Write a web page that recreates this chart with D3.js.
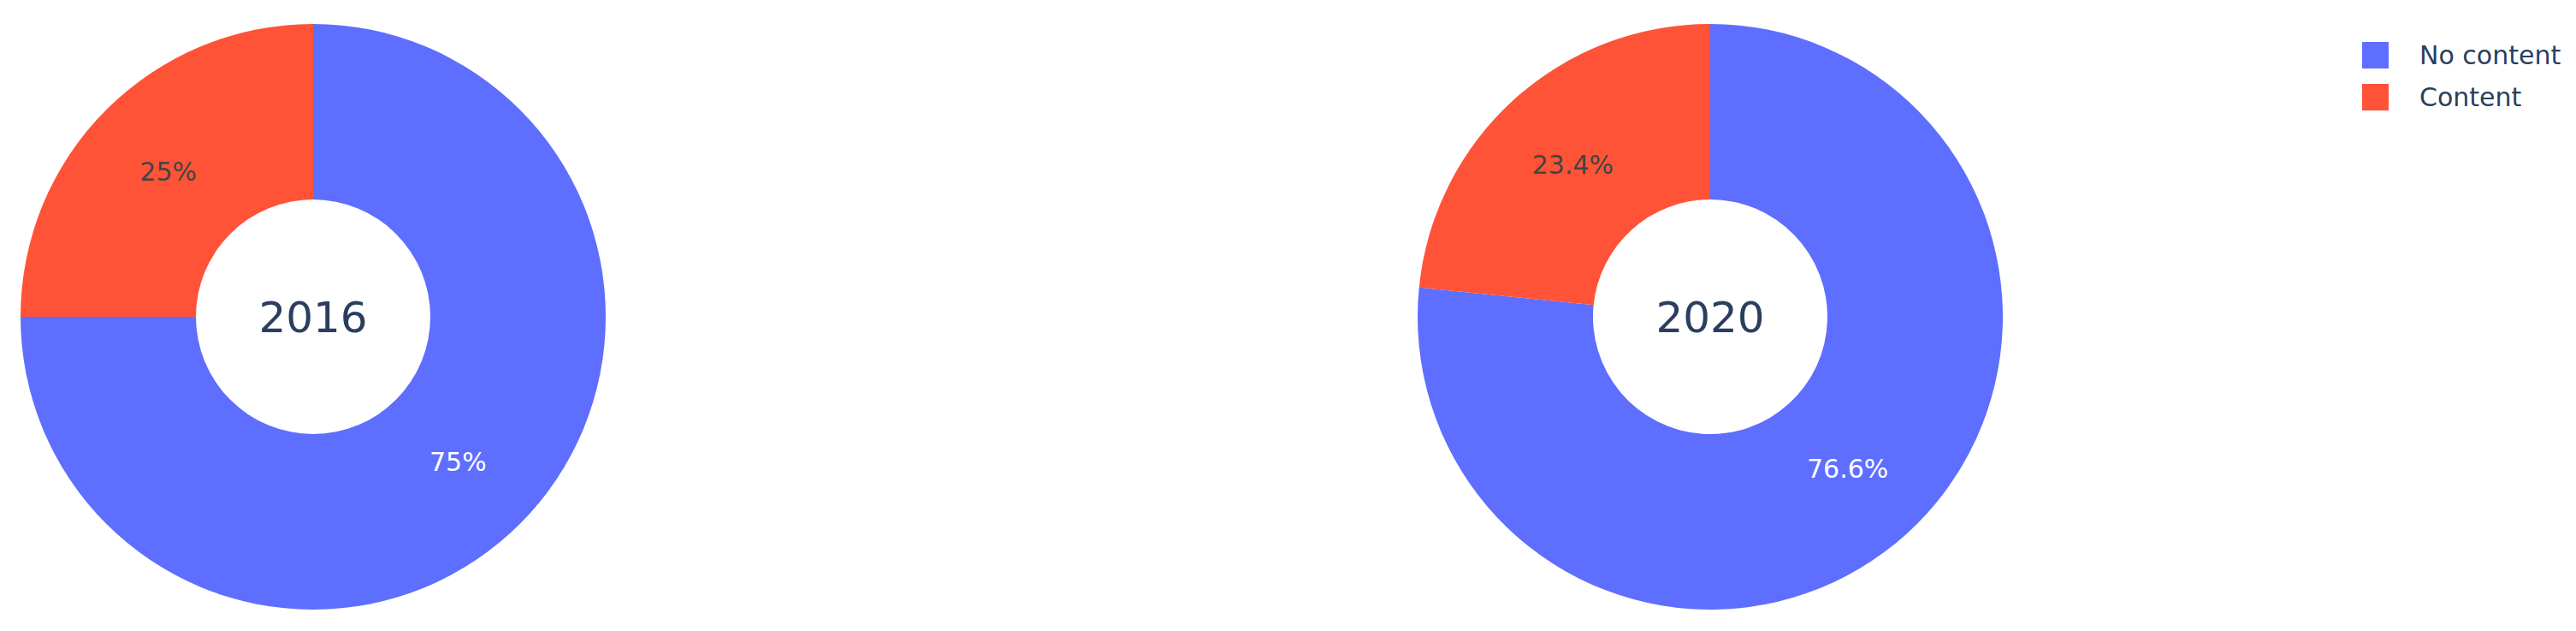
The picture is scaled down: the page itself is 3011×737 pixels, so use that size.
<!DOCTYPE html>
<html>
    <head>
        <meta charset="utf-8">
        <style>
            body { margin: 0; background: #fff; }
            text { font-family: "DejaVu Sans", Verdana, sans-serif; }
        </style>
    </head>
    <body>
        <svg width="3011" height="737"></svg>
        <script src="https://d3js.org/d3.v7.min.js"></script>
        <script>

            // data
            var years = ["2016", "2020"];
            var categories = ["No content", "Content"];
            var noContent = [75, 76.6];
            var content = [25, 23.4];
            var colors = ["#5e6eff", "#ff5338"];

            var outerR = 342, innerR = 137;

            function translator(x, y){
                return 'translate(' + x + ',' + y + ')';
            }

            var svg = d3.select('svg');

            var cx = d3.scalePoint()
                .domain(years)
                .range([366, 1999]);
            var cy = 370;

            var color = d3.scaleOrdinal()
                .domain(categories)
                .range(colors);

            var pie = d3.pie()
                .sort(null)
                .value(function(d){ return d.value; });

            var arc = d3.arc()
                .innerRadius(innerR)
                .outerRadius(outerR);

            var fmt = d3.format(".3~p");

            years.forEach(function(year, i){
                var rows = [
                    {cat: categories[0], value: noContent[i]},
                    {cat: categories[1], value: content[i]}
                ];
                var total = d3.sum(rows, function(d){ return d.value; });
                var g = svg.append('g')
                    .attr('transform', translator(cx(year), cy));

                var slices = g.selectAll('.slice')
                    .data(pie(rows))
                    .enter().append('g')
                    .attr('class', 'slice');

                slices.append('path')
                    .attr('d', arc)
                    .attr('fill', function(d){ return color(d.data.cat); });

                slices.append('text')
                    .attr('transform', function(d){ return translator.apply(null, arc.centroid(d)); })
                    .attr('text-anchor', 'middle')
                    .attr('dy', '0.36em')
                    .attr('font-size', 30)
                    .attr('fill', function(d){ return d.data.cat === categories[0] ? '#ffffff' : '#444444'; })
                    .text(function(d){ return fmt(d.data.value / total); });

                g.append('text')
                    .attr('text-anchor', 'middle')
                    .attr('dy', '0.36em')
                    .attr('font-size', 50)
                    .attr('fill', '#2a3f5f')
                    .text(year);
            });

            // legend
            var legend = svg.append('g')
                .attr('transform', translator(2761, 49));

            var items = legend.selectAll('.item')
                .data(categories)
                .enter().append('g')
                .attr('class', 'item')
                .attr('transform', function(d, i){ return translator(0, i * 49); });

            items.append('rect')
                .attr('width', 31)
                .attr('height', 31)
                .attr('fill', function(d){ return color(d); });

            items.append('text')
                .attr('x', 67)
                .attr('y', 26)
                .attr('font-size', 30)
                .attr('fill', '#2a3f5f')
                .text(function(d){ return d; });

        </script>
    </body>
</html>
